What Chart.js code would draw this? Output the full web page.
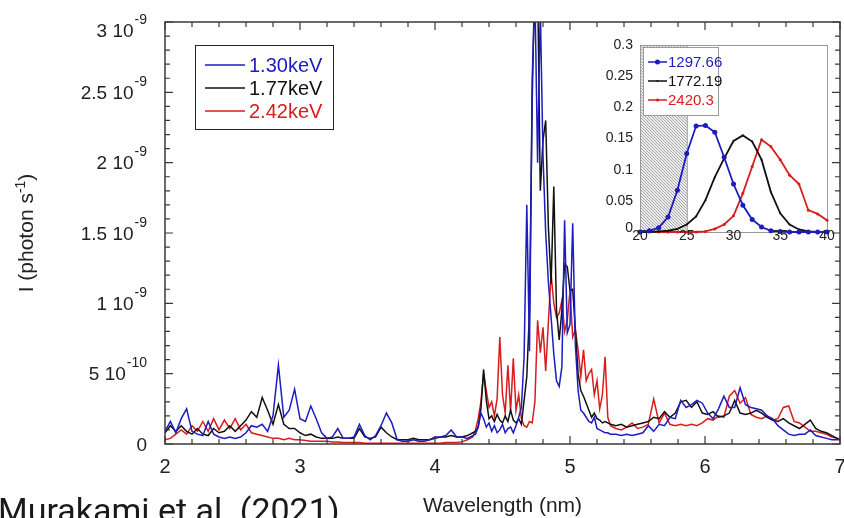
<!DOCTYPE html>
<html>
<head>
<meta charset="utf-8">
<script src="https://cdn.jsdelivr.net/npm/chart.js@4.4.1/dist/chart.umd.min.js"></script>
<style>
  html, body { margin: 0; padding: 0; background: #fff; }
  #wrap { position: relative; width: 844px; height: 518px; overflow: hidden; }
  #main { position: absolute; left: 0; top: 0; }
  #inset { position: absolute; left: 595px; top: 35px; }
</style>
</head>
<body>
<div id="wrap">
  <canvas id="main" width="844" height="518"></canvas>
  <canvas id="inset" width="240" height="215"></canvas>
</div>
<script>
// wavelength (nm)
const wavelength = [
  2.00,2.04,2.08,2.12,2.16,2.20,2.24,2.28,2.32,2.36,2.40,2.44,2.48,2.52,2.56,2.60,2.64,2.68,2.72,2.76,
  2.80,2.84,2.88,2.92,2.96,3.00,3.04,3.08,3.12,3.16,3.20,3.24,3.28,3.32,3.36,3.40,3.44,3.48,3.52,3.56,
  3.60,3.64,3.68,3.72,3.76,3.80,3.84,3.88,3.92,3.96,4.00,4.04,4.08,4.12,4.16,4.20,4.24,4.28,
  4.30,4.32,4.34,4.36,4.38,4.40,4.42,4.44,4.46,4.48,4.50,4.52,4.54,4.56,4.58,4.60,4.62,4.64,4.66,4.68,
  4.70,4.72,4.74,4.76,4.78,4.80,4.82,4.84,4.86,4.88,4.90,4.92,4.94,4.96,4.98,5.00,5.02,5.04,5.06,5.08,
  5.10,5.12,5.14,5.16,5.18,5.20,5.22,5.24,5.26,5.28,5.30,
  5.34,5.38,5.42,5.46,5.50,5.54,5.58,5.62,5.66,5.70,5.74,5.78,5.82,5.86,5.90,5.94,5.98,6.02,6.06,6.10,
  6.14,6.18,6.22,6.26,6.30,6.34,6.38,6.42,6.46,6.50,6.54,6.58,6.62,6.66,6.70,6.74,6.78,6.82,6.86,6.90,
  6.94,6.98,7.00
];

// intensity in units of 1e-10 photon/s
const kev130 = [
  0.9,1.6,0.8,1.8,2.5,0.9,0.7,0.6,1.6,0.7,0.5,0.4,0.5,0.4,0.5,0.8,1.3,1.2,1.4,0.9,
  2.0,5.6,1.9,2.4,3.9,1.8,1.6,2.7,1.8,0.8,0.4,0.5,1.1,0.4,0.4,0.5,1.4,0.6,0.3,0.6,
  1.3,2.2,1.5,0.3,0.2,0.2,0.3,0.2,0.2,0.3,0.5,0.5,0.6,1.0,0.5,0.5,0.4,0.6,
  0.7,1.2,2.2,1.8,1.2,1.5,0.9,1.3,0.8,1.0,1.4,0.8,1.1,1.2,0.8,1.3,1.9,2.6,6.2,17.0,
  6.6,26,32,20,31,20.5,15,11.5,9.0,6.4,4.5,4.1,5.5,15.9,7.9,8.5,15.7,7.0,3.8,2.4,
  2.2,1.9,1.6,1.5,1.9,1.1,1.0,0.9,0.8,0.8,0.7,
  0.7,0.6,0.7,0.6,0.7,0.8,1.3,0.9,1.4,1.3,1.9,1.8,3.1,2.6,2.8,3.1,2.9,2.2,1.8,2.5,
  3.4,2.6,2.6,4.0,2.8,2.6,2.5,2.4,2.0,1.8,1.3,1.0,0.7,0.6,0.7,0.7,1.0,0.6,0.5,0.4,
  0.3,0.3,0.3
];
const kev177 = [
  0.8,1.3,0.9,1.3,0.9,0.7,1.1,0.7,0.6,1.1,0.8,0.9,1.3,0.9,1.3,1.7,2.3,1.9,3.3,2.4,
  1.4,2.8,1.4,1.1,1.1,0.8,0.6,0.7,0.5,0.4,0.4,0.4,0.5,0.4,0.4,0.4,1.1,0.5,0.4,0.5,
  1.2,0.8,0.5,0.3,0.3,0.3,0.4,0.3,0.3,0.3,0.4,0.5,0.5,0.6,0.5,0.5,0.6,0.8,
  0.9,1.2,2.5,5.3,3.1,1.8,2.0,1.6,2.1,1.7,1.5,2.0,1.6,2.4,1.7,1.5,1.8,1.4,3.1,4.8,
  9.5,24.4,34,33,18,21.6,23,15.4,11.4,18.3,9.5,7.4,9.5,12.8,12.6,10.9,11.0,8.1,5.0,3.8,
  3.4,2.9,2.4,1.9,2.2,1.8,1.7,1.5,1.6,1.5,1.4,
  1.3,1.4,1.2,1.3,1.4,1.5,1.6,1.9,1.8,2.3,1.9,2.2,3.0,3.1,2.6,3.0,2.2,2.1,2.3,1.9,
  2.0,2.2,3.1,2.2,2.1,2.2,2.4,2.2,1.9,1.7,1.6,1.8,1.5,1.3,1.1,1.4,1.7,1.1,0.9,0.8,
  0.6,0.4,0.3
];
const kev242 = [
  0.3,0.4,0.7,1.0,0.7,1.3,0.9,1.6,0.9,1.8,1.0,1.7,1.1,1.8,1.0,1.4,0.8,0.7,0.6,0.5,
  0.4,0.4,0.3,0.4,0.3,0.3,0.25,0.2,0.2,0.2,0.2,0.15,0.15,0.1,0.1,0.1,0.1,0.05,0.05,0.05,
  0.05,0.05,0.05,0.05,0.05,0.05,0.05,0.05,0.05,0.05,0.05,0.05,0.1,0.1,0.1,0.15,0.3,0.5,
  1.0,1.8,3.0,5.0,3.8,2.6,3.0,2.0,3.2,7.6,3.5,2.2,5.6,2.3,6.1,2.4,3.5,1.8,1.3,1.2,
  1.6,1.5,3.0,8.8,6.5,8.3,5.2,8.7,12.1,10.0,9.0,9.3,10.2,8.0,8.8,10.9,7.6,8.1,6.7,4.8,
  6.7,4.5,5.0,5.3,3.5,4.5,2.5,3.5,6.2,1.9,1.3,
  1.1,1.0,1.2,1.5,1.1,1.2,1.4,3.2,1.5,2.2,1.4,1.3,1.4,1.3,1.4,1.3,1.5,1.8,1.7,2.0,
  1.9,3.4,3.8,2.9,3.3,2.1,1.9,1.8,2.0,1.7,1.8,2.6,2.7,1.6,1.5,1.2,0.9,0.9,0.8,0.7,
  0.5,0.4,0.3
];
const seriesNames = ['1.30keV', '1.77keV', '2.42keV'];

const xTicks = [2, 3, 4, 5, 6, 7];
const yTicks = [0, 5, 10, 15, 20, 25, 30];
const yTickText = ['0', '5 10', '1 10', '1.5 10', '2 10', '2.5 10', '3 10'];
const yTickExp = ['', '-10', '-9', '-9', '-9', '-9', '-9'];

// inset
const insetX = [20,21,22,23,24,25,26,27,28,29,30,31,32,33,34,35,36,37,38,39,40];
const inset1297 = [0,0.002,0.007,0.024,0.067,0.126,0.170,0.171,0.160,0.120,0.077,0.043,0.020,0.008,0.002,0.001,0,0,0,0,0];
const inset1772 = [0,0,0.001,0.002,0.005,0.012,0.025,0.051,0.088,0.118,0.146,0.155,0.145,0.116,0.064,0.030,0.012,0.004,0.001,0,0];
const inset2420 = [0,0,0,0,0,0,0,0.001,0.005,0.012,0.026,0.062,0.105,0.148,0.137,0.116,0.091,0.077,0.035,0.029,0.019];
const insetNames = ['1297.66', '1772.19', '2420.3'];
const insetXTicks = [20, 25, 30, 35, 40];
const insetYTicks = [0, 0.05, 0.1, 0.15, 0.2, 0.25, 0.3];
const insetYText = ['0', '0.05', '0.1', '0.15', '0.2', '0.25', '0.3'];

const BLUE = '#1c1cc0', BLACK = '#111111', RED = '#d91c1c';
const FONT = "'Liberation Sans', Arial, sans-serif";
Chart.defaults.font.family = FONT;

function pts(xs, ys) { return xs.map((x, i) => ({ x: x, y: ys[i] })); }

const mainDecor = {
  id: 'mainDecor',
  afterDraw(chart) {
    const ctx = chart.ctx, a = chart.chartArea, x = chart.scales.x, y = chart.scales.y;
    ctx.save();
    ctx.strokeStyle = '#3a3a3a';
    ctx.lineWidth = 1.5;
    ctx.strokeRect(a.left, a.top, a.right - a.left, a.bottom - a.top);

    // inward ticks on all four sides
    ctx.lineWidth = 1.2;
    ctx.beginPath();
    for (let k = 0; k <= 25; k++) {
      const v = 2 + k * 0.2;
      const px = x.getPixelForValue(v);
      const len = k % 5 === 0 ? 8 : 5;
      ctx.moveTo(px, a.bottom); ctx.lineTo(px, a.bottom - len);
      ctx.moveTo(px, a.top); ctx.lineTo(px, a.top + len);
    }
    for (let k = 0; k <= 30; k++) {
      const py = y.getPixelForValue(k);
      const len = k % 5 === 0 ? 8 : 5;
      ctx.moveTo(a.left, py); ctx.lineTo(a.left + len, py);
      ctx.moveTo(a.right, py); ctx.lineTo(a.right - len, py);
    }
    ctx.stroke();

    // x tick labels
    ctx.fillStyle = '#222';
    ctx.font = '20px ' + FONT;
    ctx.textAlign = 'center';
    ctx.textBaseline = 'alphabetic';
    xTicks.forEach(v => ctx.fillText(String(v), x.getPixelForValue(v), 473));

    // y tick labels with superscript exponents
    const right = 147;
    yTicks.forEach((v, i) => {
      let base = y.getPixelForValue(v) + 6.5;
      if (base < 37) base = 37;
      ctx.textAlign = 'right';
      ctx.font = '14px ' + FONT;
      const ew = yTickExp[i] ? ctx.measureText(yTickExp[i]).width : 0;
      if (yTickExp[i]) ctx.fillText(yTickExp[i], right, base - 13);
      ctx.font = '19px ' + FONT;
      ctx.fillText(yTickText[i], right - ew - (ew ? 1 : 0), base);
    });

    // axis titles
    ctx.textAlign = 'center';
    ctx.font = '21px ' + FONT;
    ctx.fillText('Wavelength (nm)', (a.left + a.right) / 2, 512);

    ctx.save();
    ctx.translate(25, (a.top + a.bottom) / 2);
    ctx.rotate(-Math.PI / 2);
    ctx.textAlign = 'left';
    ctx.font = '21px ' + FONT;
    const t1 = 'I (photon s', t3 = ')';
    const w1 = ctx.measureText(t1).width, w3 = ctx.measureText(t3).width;
    ctx.font = '14px ' + FONT;
    const w2 = ctx.measureText('-1').width;
    let u = -(w1 + w2 + w3) / 2;
    ctx.font = '21px ' + FONT;
    ctx.fillText(t1, u, 8); u += w1;
    ctx.font = '14px ' + FONT;
    ctx.fillText('-1', u, 0); u += w2;
    ctx.font = '21px ' + FONT;
    ctx.fillText(t3, u, 8);
    ctx.restore();

    // legend
    ctx.fillStyle = '#fff';
    ctx.fillRect(195, 45, 138, 84);
    ctx.strokeStyle = '#222';
    ctx.lineWidth = 1;
    ctx.strokeRect(195.5, 45.5, 138, 84);
    const rows = [65, 88, 111];
    chart.data.datasets.forEach((ds, i) => {
      ctx.strokeStyle = ds.borderColor;
      ctx.lineWidth = 1.4;
      ctx.beginPath(); ctx.moveTo(205, rows[i]); ctx.lineTo(245, rows[i]); ctx.stroke();
      ctx.fillStyle = ds.borderColor;
      ctx.font = '20px ' + FONT;
      ctx.textAlign = 'left';
      ctx.textBaseline = 'middle';
      ctx.fillText(ds.label, 249, rows[i] + 1);
    });

    // citation
    ctx.fillStyle = '#1a1a1a';
    ctx.textBaseline = 'alphabetic';
    ctx.font = '34px Roboto, sans-serif';
    ctx.fillText('Murakami et al. (2021)', -2, 522);
    ctx.restore();
  }
};

new Chart(document.getElementById('main'), {
  type: 'line',
  data: {
    datasets: [
      { label: seriesNames[0], data: pts(wavelength, kev130), borderColor: BLUE },
      { label: seriesNames[1], data: pts(wavelength, kev177), borderColor: BLACK },
      { label: seriesNames[2], data: pts(wavelength, kev242), borderColor: RED }
    ].map(d => Object.assign(d, { borderWidth: 1.5, pointRadius: 0, tension: 0, fill: false }))
  },
  options: {
    responsive: false,
    animation: false,
    layout: { padding: { top: 22, right: 4, left: 0, bottom: 0 } },
    plugins: { legend: { display: false }, tooltip: { enabled: false } },
    scales: {
      x: {
        type: 'linear', min: 2, max: 7,
        grid: { display: false }, border: { display: false }, ticks: { display: false },
        afterFit(s) { s.height = 74; }
      },
      y: {
        min: 0, max: 30,
        grid: { display: false }, border: { display: false }, ticks: { display: false },
        afterFit(s) { s.width = 165; }
      }
    }
  },
  plugins: [mainDecor]
});

const insetDecor = {
  id: 'insetDecor',
  beforeDatasetsDraw(chart) {
    const ctx = chart.ctx, a = chart.chartArea, x = chart.scales.x;
    const x0 = x.getPixelForValue(20), x1 = x.getPixelForValue(25);
    ctx.save();
    ctx.fillStyle = '#ececec';
    ctx.fillRect(x0, a.top, x1 - x0, a.bottom - a.top);
    ctx.beginPath();
    ctx.rect(x0, a.top, x1 - x0, a.bottom - a.top);
    ctx.clip();
    ctx.strokeStyle = '#8a8a8a';
    ctx.lineWidth = 0.7;
    ctx.beginPath();
    for (let s = -300; s < 300; s += 3) {
      ctx.moveTo(x0 + s, a.top);
      ctx.lineTo(x0 + s + (a.bottom - a.top), a.bottom);
    }
    ctx.stroke();
    ctx.restore();
    ctx.save();
    ctx.strokeStyle = '#999';
    ctx.lineWidth = 1;
    ctx.strokeRect(x0 + 0.5, a.top + 0.5, x1 - x0, a.bottom - a.top);
    ctx.strokeRect(a.left + 0.5, a.top + 0.5, a.right - a.left, a.bottom - a.top);
    ctx.restore();
  },
  afterDraw(chart) {
    const ctx = chart.ctx, a = chart.chartArea, x = chart.scales.x, y = chart.scales.y;
    ctx.save();
    ctx.fillStyle = '#222';
    ctx.font = '14px ' + FONT;
    ctx.textBaseline = 'middle';
    ctx.textAlign = 'right';
    insetYTicks.forEach((v, i) => {
      const py = y.getPixelForValue(v) + (v === 0 ? -4 : 0);
      ctx.fillText(insetYText[i], 38, py);
    });
    ctx.textAlign = 'center';
    insetXTicks.forEach(v => ctx.fillText(String(v), x.getPixelForValue(v), a.bottom + 4));

    // legend
    ctx.fillStyle = '#fff';
    ctx.fillRect(48, 12, 75, 68);
    ctx.strokeStyle = '#999';
    ctx.lineWidth = 1;
    ctx.strokeRect(48.5, 12.5, 75, 68);
    const rows = [27, 46, 65];
    chart.data.datasets.forEach((ds, i) => {
      ctx.strokeStyle = ds.borderColor;
      ctx.lineWidth = 1.5;
      ctx.beginPath(); ctx.moveTo(53, rows[i]); ctx.lineTo(72, rows[i]); ctx.stroke();
      ctx.fillStyle = ds.borderColor;
      ctx.beginPath(); ctx.arc(62.5, rows[i], ds.pointRadius, 0, Math.PI * 2); ctx.fill();
      ctx.font = '15px ' + FONT;
      ctx.textAlign = 'left';
      ctx.fillText(ds.label, 73, rows[i] + 1);
    });
    ctx.restore();
  }
};

new Chart(document.getElementById('inset'), {
  type: 'line',
  data: {
    datasets: [
      { label: insetNames[0], data: pts(insetX, inset1297), borderColor: BLUE, backgroundColor: BLUE, pointRadius: 2.5 },
      { label: insetNames[1], data: pts(insetX, inset1772), borderColor: BLACK, backgroundColor: BLACK, pointRadius: 1 },
      { label: insetNames[2], data: pts(insetX, inset2420), borderColor: RED, backgroundColor: RED, pointRadius: 1.5 }
    ].map(d => Object.assign(d, { borderWidth: 1.8, pointBorderWidth: 0, tension: 0, fill: false, clip: false }))
  },
  options: {
    responsive: false,
    animation: false,
    layout: { padding: { top: 10, right: 8, left: 0, bottom: 0 } },
    plugins: { legend: { display: false }, tooltip: { enabled: false } },
    scales: {
      x: {
        type: 'linear', min: 20, max: 40,
        grid: { display: false }, border: { display: false }, ticks: { display: false },
        afterFit(s) { s.height = 18; }
      },
      y: {
        min: 0, max: 0.3,
        grid: { display: false }, border: { display: false }, ticks: { display: false },
        afterFit(s) { s.width = 45; }
      }
    }
  },
  plugins: [insetDecor]
});
</script>
</body>
</html>
